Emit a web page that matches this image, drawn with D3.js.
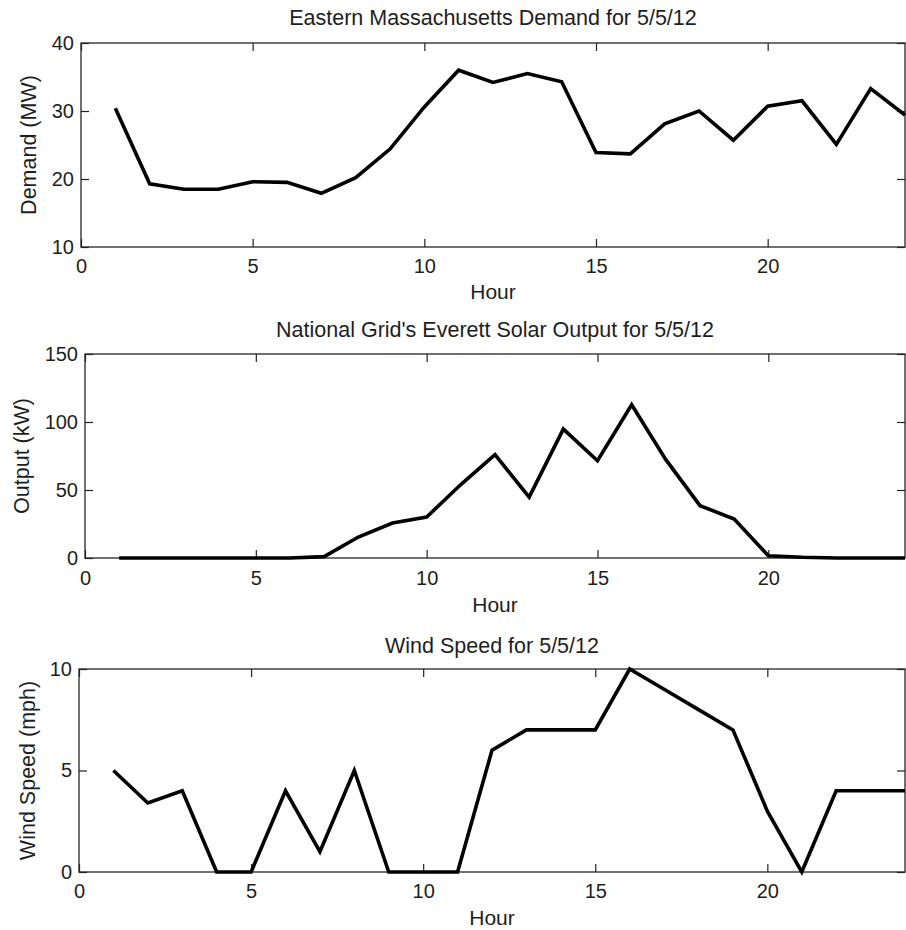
<!DOCTYPE html>
<html>
<head>
<meta charset="utf-8">
<script src="https://d3js.org/d3.v7.min.js"></script>
<style>
    body { margin: 0; background: white; }
    text { font-family: "Liberation Sans", Arial, sans-serif; fill: #1e1e1e; }
</style>
</head>
<body>
<script>
    // hourly readings for 5/5/12
    let hours = [1, 2, 3, 4, 5, 6, 7, 8, 9, 10, 11, 12, 13, 14, 15, 16, 17, 18, 19, 20, 21, 22, 23, 24];
    let demand = [30.4, 19.3, 18.5, 18.5, 19.6, 19.5, 17.9, 20.2, 24.4, 30.6, 36.0, 34.2,
                  35.5, 34.3, 23.9, 23.7, 28.1, 30.0, 25.7, 30.7, 31.5, 25.1, 33.3, 29.4];
    let solar = [0, 0, 0, 0, 0, 0, 1, 15.4, 25.7, 30.1, 54, 76,
                 44.8, 94.8, 71.5, 112.7, 72.3, 38.5, 28.7, 1.7, 0.5, 0, 0, 0];
    let wind = [5, 3.4, 4, 0, 0, 4, 1, 5, 0, 0, 0, 6,
                7, 7, 7, 10, 9, 8, 7, 3, 0, 4, 4, 4];

    let xTicks = [0, 5, 10, 15, 20];
    let demandTicks = [10, 20, 30, 40];
    let solarTicks = [0, 50, 100, 150];
    let windTicks = [0, 5, 10];

    let titles = ["Eastern Massachusetts Demand for 5/5/12",
                  "National Grid's Everett Solar Output for 5/5/12",
                  "Wind Speed for 5/5/12"];
    let yLabels = ["Demand (MW)", "Output (kW)", "Wind Speed (mph)"];

    let svg = d3.select("body").append("svg")
        .attr("width", 906)
        .attr("height", 930);

    // panel boxes (pixel layout of each subplot)
    let panels = [
        {values: demand, ticks: demandTicks, domain: [10, 40], left: 81, right: 905, top: 43, bottom: 247,
         titleY: 25, xPad: 11.5, hourY: 299, ylabX: 36},
        {values: solar, ticks: solarTicks, domain: [0, 150], left: 85, right: 905, top: 354, bottom: 558,
         titleY: 337, xPad: 12.5, hourY: 612, ylabX: 29},
        {values: wind, ticks: windTicks, domain: [0, 10], left: 79, right: 905, top: 669, bottom: 872,
         titleY: 653, xPad: 12, hourY: 925, ylabX: 35}
    ];

    panels.forEach(function(p, i) {
        let x = d3.scaleLinear().domain([0, 24]).range([p.left, p.right]);
        let y = d3.scaleLinear().domain(p.domain).range([p.bottom, p.top]);

        let g = svg.append("g");

        // inward ticks on all four sides, labels on bottom/left only
        g.append("g")
            .attr("transform", "translate(0," + p.bottom + ")")
            .call(d3.axisBottom(x).tickValues(xTicks).tickSizeInner(-8).tickSizeOuter(0).tickPadding(p.xPad));
        g.append("g")
            .attr("transform", "translate(0," + p.top + ")")
            .call(d3.axisTop(x).tickValues(xTicks).tickSizeInner(-8).tickSizeOuter(0).tickFormat(""));
        g.append("g")
            .attr("transform", "translate(" + p.left + ",0)")
            .call(d3.axisLeft(y).tickValues(p.ticks).tickSizeInner(-8).tickSizeOuter(0).tickPadding(7));
        g.append("g")
            .attr("transform", "translate(" + p.right + ",0)")
            .call(d3.axisRight(y).tickValues(p.ticks).tickSizeInner(-8).tickSizeOuter(0).tickFormat(""));

        g.selectAll(".domain").remove();
        g.selectAll(".tick line").attr("stroke", "#222").attr("stroke-width", 1.2);
        g.selectAll(".tick text")
            .style("font-size", "20px")
            .style("font-family", "'Liberation Sans', Arial, sans-serif")
            .attr("fill", "#1e1e1e");

        g.append("rect")
            .attr("x", p.left)
            .attr("y", p.top)
            .attr("width", p.right - p.left)
            .attr("height", p.bottom - p.top)
            .attr("fill", "none")
            .attr("stroke", "#262626")
            .attr("stroke-width", 1.3);

        let line = d3.line()
            .x((d, j) => x(hours[j]))
            .y(d => y(d));

        g.append("path")
            .datum(p.values)
            .attr("d", line)
            .attr("fill", "none")
            .attr("stroke", "black")
            .attr("stroke-width", 3.6)
            .attr("stroke-linejoin", "miter");

        let cx = (p.left + p.right) / 2;

        g.append("text")
            .attr("x", cx)
            .attr("y", p.titleY)
            .attr("text-anchor", "middle")
            .style("font-size", "21.5px")
            .text(titles[i]);

        g.append("text")
            .attr("x", cx)
            .attr("y", p.hourY)
            .attr("text-anchor", "middle")
            .style("font-size", "21px")
            .text("Hour");

        g.append("text")
            .attr("transform", "translate(" + p.ylabX + "," + (p.top + p.bottom) / 2 + ") rotate(-90)")
            .attr("text-anchor", "middle")
            .style("font-size", "21.5px")
            .text(yLabels[i]);
    });
</script>
</body>
</html>
